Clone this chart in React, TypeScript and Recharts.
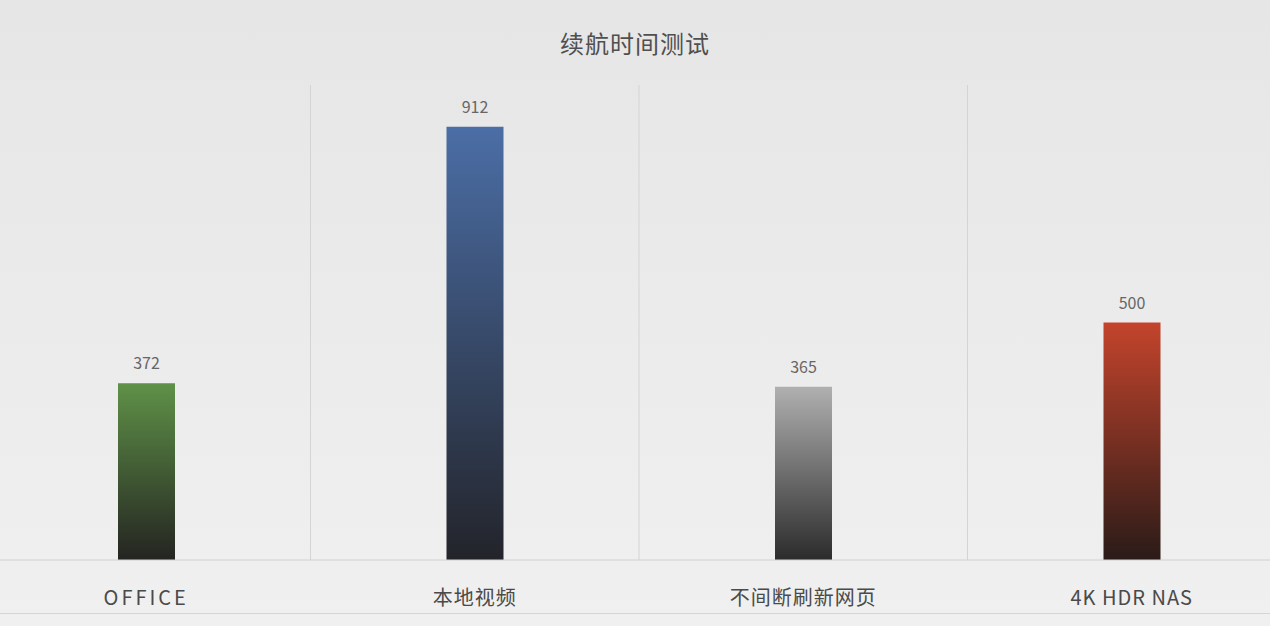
import React from "react";
import { BarChart, Bar, XAxis, YAxis, CartesianGrid, Cell, LabelList } from "recharts";

const categories = ["OFFICE", "本地视频", "不间断刷新网页", "4K HDR NAS"];
const hours = [372, 912, 365, 500];
const topColors = ["#5f9148", "#4b6ea6", "#b0b0b0", "#c4442c"];
const bottomColors = ["#242421", "#23242a", "#2b2b2b", "#2a1b18"];

const data = categories.map((name, i) => ({ name, value: hours[i] }));

const FONT = "'Noto Sans CJK SC', 'Noto Sans', sans-serif";

const Tick = ({ x, y, payload }: any) => (
  <text
    x={x}
    y={y + 37}
    textAnchor="middle"
    fill="#4a4a4a"
    fontSize={20}
    fontFamily={FONT}
    letterSpacing={/^[A-Z]+$/.test(payload.value) ? 3 : 1}
  >
    {payload.value}
  </text>
);

export default function App() {
  return (
    <div
      style={{
        position: "fixed",
        left: 0,
        top: 0,
        width: 1270,
        height: 626,
        overflow: "hidden",
        background: "linear-gradient(180deg, #e6e6e6 0%, #ececec 60%, #f0f0f0 100%)",
        fontFamily: FONT,
      }}
    >
      <div
        style={{
          position: "absolute",
          top: 25,
          left: 0,
          width: 1270,
          textAlign: "center",
          fontSize: 24,
          color: "#4f4f4f",
          fontWeight: 400,
          letterSpacing: 1,
        }}
      >
        续航时间测试
      </div>
      <div style={{ position: "absolute", left: 0, top: 613, width: 1270, borderTop: "1px solid #d6d6d6" }} />
      <div style={{ position: "absolute", left: -18, top: 0 }}>
        <BarChart
          width={1314}
          height={626}
          data={data}
          margin={{ top: 85, right: 0, bottom: 0, left: 0 }}
          barSize={57}
        >
          <defs>
            {topColors.map((c, i) => (
              <linearGradient key={i} id={`g${i}`} x1="0" y1="0" x2="0" y2="1">
                <stop offset="0%" stopColor={c} />
                <stop offset="100%" stopColor={bottomColors[i]} />
              </linearGradient>
            ))}
          </defs>
          <CartesianGrid
            horizontal={false}
            stroke="#d4d4d4"
            verticalCoordinatesGenerator={({ offset }: any) =>
              [1, 2, 3].map((k) => offset.left + (offset.width * k) / 4)
            }
          />
          <XAxis
            dataKey="name"
            height={66}
            axisLine={{ stroke: "#d0d0d0" }}
            tickLine={false}
            tick={<Tick />}
            interval={0}
          />
          <YAxis hide domain={[0, 1000]} width={0} />
          <Bar dataKey="value" isAnimationActive={false}>
            {data.map((_, i) => (
              <Cell key={i} fill={`url(#g${i})`} />
            ))}
            <LabelList
              dataKey="value"
              position="top"
              offset={14}
              fill="#666"
              fontSize={16}
              fontFamily={FONT}
            />
          </Bar>
        </BarChart>
      </div>
    </div>
  );
}
